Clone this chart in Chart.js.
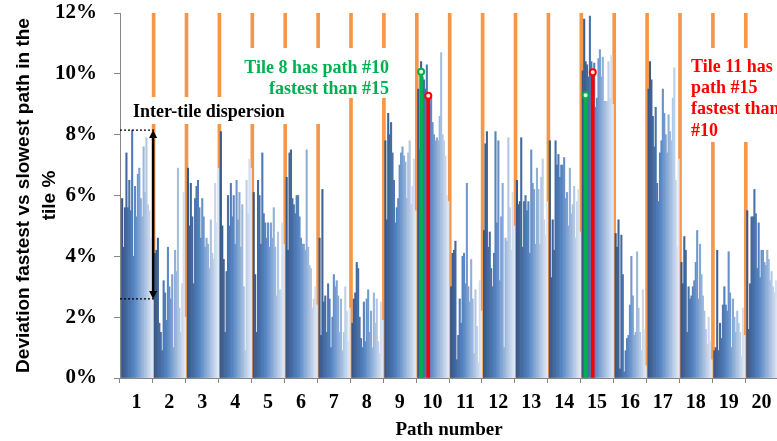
<!DOCTYPE html>
<html>
<head>
<meta charset="utf-8">
<script src="https://cdn.jsdelivr.net/npm/chart.js@4.4.0/dist/chart.umd.min.js"></script>
<style>
  html, body { margin: 0; padding: 0; background: #fff; overflow: hidden; }
  #wrap { width: 784px; height: 441px; }
</style>
</head>
<body>
<div id="wrap"><canvas id="chart"></canvas></div>
<script>
// Path numbers on the x axis
const pathLabels = ['1', '2', '3', '4', '5', '6', '7', '8', '9', '10',
                    '11', '12', '13', '14', '15', '16', '17', '18', '19', '20'];

// Deviation fastest vs slowest path, % (one row per path, one value per tile)
const deviation = [
  [5.9, 4.3, 5.6, 7.4, 5.6, 6.5, 5.5, 8.15, 4.0, 6.3, 5.3, 6.7, 6.9, 5.9, 5.3, 7.6, 6.1, 7.9, 5.7, 5.5, 4.6, 2.6],
  [4.1, 4.2, 4.6, 1.8, 1.5, 0.9, 3.2, 2.8, 1.9, 4.3, 3.0, 2.6, 3.4, 1.0, 4.2, 3.5, 6.9, 2.3, 1.5, 3.1, 6.1, 2.0],
  [6.9, 5.0, 6.4, 5.3, 3.1, 5.9, 6.3, 6.5, 5.6, 4.6, 5.9, 5.3, 4.3, 4.6, 4.4, 3.6, 5.2, 4.1, 3.9, 6.4, 5.1, 6.9],
  [8.1, 5.0, 3.9, 1.5, 3.5, 6.0, 5.0, 6.4, 5.3, 6.0, 4.4, 6.5, 5.2, 6.1, 4.3, 5.7, 3.0, 0.9, 6.5, 5.4, 7.2, 6.9],
  [6.1, 3.4, 1.5, 6.5, 6.0, 4.4, 7.4, 5.4, 5.1, 4.6, 5.1, 4.3, 5.1, 4.6, 5.6, 4.3, 2.7, 4.8, 2.9, 2.9, 5.1, 4.4],
  [6.6, 4.2, 7.4, 7.5, 5.9, 5.7, 5.4, 6.0, 6.0, 5.3, 4.6, 4.4, 4.4, 4.2, 7.5, 4.3, 3.7, 3.6, 2.3, 2.6, 3.0, 2.4],
  [4.6, 1.4, 6.2, 2.5, 2.7, 1.5, 3.1, 2.6, 1.0, 2.0, 3.4, 3.0, 3.2, 2.7, 1.5, 2.6, 0.9, 1.5, 3.0, 2.2, 1.2, 2.3],
  [1.8, 2.6, 2.8, 3.8, 3.6, 2.0, 1.3, 1.0, 2.5, 1.2, 2.6, 2.9, 1.5, 2.2, 1.0, 2.8, 1.8, 2.6, 1.2, 0.8, 2.5, 1.9],
  [7.8, 5.2, 8.7, 8.0, 8.4, 7.4, 6.5, 5.1, 5.6, 5.9, 7.0, 7.4, 7.6, 7.3, 7.1, 5.9, 7.4, 7.8, 5.7, 6.3, 7.2, 5.5],
  [9.5, 7.5, 10.4, 9.9, 9.8, 9.5, 10.3, 9.3, 9.0, 9.3, 8.4, 8.0, 7.8, 7.9, 7.8, 8.6, 10.7, 8.0, 7.8, 7.3, 6.0, 5.8],
  [3.0, 4.1, 4.2, 4.5, 0.6, 1.4, 2.6, 1.8, 4.0, 4.1, 3.1, 6.4, 3.0, 2.5, 3.9, 2.6, 0.8, 2.9, 1.7, 0.5, 3.2, 2.2],
  [4.85, 7.7, 8.1, 4.3, 4.8, 3.6, 3.0, 4.1, 8.1, 5.1, 7.8, 3.2, 5.3, 6.4, 1.0, 4.6, 4.5, 7.9, 5.6, 4.2, 6.1, 5.0],
  [6.5, 5.7, 5.8, 7.9, 4.3, 5.8, 6.0, 5.5, 5.8, 4.1, 7.5, 6.4, 6.2, 4.4, 6.9, 6.2, 4.4, 6.6, 7.2, 5.2, 4.7, 5.8],
  [7.8, 3.3, 5.2, 4.2, 7.8, 7.0, 7.35, 6.6, 7.0, 7.0, 7.25, 5.9, 6.1, 5.0, 6.9, 5.4, 5.7, 6.3, 4.6, 5.8, 6.2, 4.8],
  [10.1, 11.8, 10.4, 10.3, 9.9, 11.9, 10.4, 9.3, 10.35, 8.9, 9.2, 10.5, 10.8, 9.9, 10.55, 9.1, 9.1, 9.1, 10.4, 9.2, 10.6, 9.0],
  [4.75, 4.3, 5.2, 0.3, 4.7, 3.4, 0.2, 0.9, 1.3, 1.4, 2.4, 4.0, 2.7, 1.4, 1.5, 4.15, 2.3, 1.5, 0.9, 2.9, 1.6, 0.4],
  [9.5, 10.4, 9.8, 8.6, 7.6, 8.9, 6.4, 5.8, 7.4, 7.8, 9.5, 8.7, 8.0, 7.4, 8.65, 8.1, 7.8, 9.2, 10.2, 6.5, 4.3, 7.2],
  [3.8, 3.1, 4.65, 4.2, 1.5, 3.0, 2.6, 2.7, 3.0, 3.2, 3.8, 4.85, 2.6, 4.4, 3.4, 2.7, 2.2, 1.6, 1.1, 2.0, 1.2, 0.6],
  [0.9, 1.0, 4.2, 0.9, 1.8, 1.3, 2.4, 3.0, 2.4, 2.2, 4.15, 2.8, 1.0, 2.6, 2.0, 1.5, 2.2, 1.8, 1.5, 0.7, 2.3, 1.4],
  [5.5, 1.6, 3.1, 5.3, 5.3, 6.2, 5.4, 3.6, 5.1, 3.3, 4.2, 4.2, 3.8, 3.7, 4.2, 3.9, 3.2, 3.5, 3.0, 2.8, 3.2, 2.6]
];

// highlighted tiles on paths 10 and 15
const highlightPaths = ['10', '15'];
const tile8Values = [10.07, 9.3];
const tile11Values = [9.28, 10.05];
const tile8Slot = 2;   // position of tile 8 inside a path group
const tile11Slot = 7;  // position of tile 11 inside a path group

const yMax = 12;

// build one category per bar; slot 0 of each group is the orange separator
const tilesPerPath = deviation[0].length;
const slotsPerPath = tilesPerPath + 1;
const slotLabels = [], barData = [], sepData = [], greenBars = [], redBars = [];
pathLabels.forEach((p, pi) => {
  for (let s = 0; s < slotsPerPath; s++) {
    slotLabels.push(p + '.' + s);
    sepData.push(s === 0 && pi > 0 ? yMax : null);
    barData.push(s === 0 ? null : deviation[pi][s - 1]);
    const hi = highlightPaths.indexOf(p);
    greenBars.push(hi >= 0 && s === tile8Slot + 1 ? tile8Values[hi] : null);
    redBars.push(hi >= 0 && s === tile11Slot + 1 ? tile11Values[hi] : null);
  }
});

function mix(a, b, t) {
  return a.map((v, i) => Math.round(v + (b[i] - v) * t));
}
function tileColor(ctx) {
  const s = ctx.dataIndex % slotsPerPath - 1;
  const t = s / (tilesPerPath - 1);
  const dark = [58, 88, 134], mid = [84, 132, 195], light = [222, 230, 243];
  const c = t < 0.4 ? mix(dark, mid, t / 0.4) : mix(mid, light, (t - 0.4) / 0.6);
  return 'rgb(' + c.join(',') + ')';
}

const serif = '"Liberation Serif", "Times New Roman", serif';

const notes = {
  id: 'notes',
  afterDatasetsDraw(chart) {
    const { ctx, chartArea, scales: { x, y } } = chart;
    ctx.save();
    // text boxes with white fill (they hide the separators)
    ctx.fillStyle = '#fff';
    ctx.fillRect(126, 97, 204, 27);
    ctx.fillRect(236, 48, 164, 50);
    ctx.fillRect(688, 48, 100, 94);

    ctx.font = 'bold 18px ' + serif;
    ctx.textBaseline = 'middle';
    ctx.fillStyle = '#000';
    ctx.textAlign = 'left';
    ctx.fillText('Inter-tile dispersion', 133, 112);

    ctx.fillStyle = '#00b050';
    ctx.textAlign = 'right';
    ctx.fillText('Tile 8 has path #10', 389, 68);
    ctx.fillText('fastest than #15', 389, 89);

    ctx.fillStyle = '#ff0000';
    ctx.textAlign = 'left';
    ['Tile 11 has', 'path #15', 'fastest than', '#10'].forEach((t, i) => {
      ctx.fillText(t, 691, 67 + i * 21.3);
    });

    // dispersion arrow on path 1
    const p1 = deviation[0];
    const xa = x.getPixelForValue(slotsPerPath) - 0.5;
    const yTop = y.getPixelForValue(Math.max(...p1));
    const yBot = y.getPixelForValue(Math.min(...p1));
    ctx.strokeStyle = '#000';
    ctx.lineWidth = 1.2;
    ctx.setLineDash([2, 2]);
    ctx.beginPath();
    ctx.moveTo(chartArea.left, yTop); ctx.lineTo(xa + 2, yTop);
    ctx.moveTo(chartArea.left, yBot); ctx.lineTo(xa + 2, yBot);
    ctx.stroke();
    ctx.setLineDash([]);
    ctx.lineWidth = 2.5;
    ctx.beginPath();
    ctx.moveTo(xa, yTop + 6); ctx.lineTo(xa, yBot - 6);
    ctx.stroke();
    ctx.fillStyle = '#000';
    ctx.beginPath();
    ctx.moveTo(xa, yTop); ctx.lineTo(xa - 4, yTop + 8); ctx.lineTo(xa + 4, yTop + 8);
    ctx.closePath(); ctx.fill();
    ctx.beginPath();
    ctx.moveTo(xa, yBot); ctx.lineTo(xa - 4, yBot - 8); ctx.lineTo(xa + 4, yBot - 8);
    ctx.closePath(); ctx.fill();
    ctx.restore();
  }
};

new Chart(document.getElementById('chart'), {
  type: 'bar',
  data: {
    labels: slotLabels,
    datasets: [
      { type: 'line', data: greenBars, showLine: false, pointRadius: 3, pointBorderWidth: 2,
        pointBorderColor: '#00b050', pointBackgroundColor: '#e8f8ee', order: -2 },
      { type: 'line', data: redBars, showLine: false, pointRadius: 3, pointBorderWidth: 2,
        pointBorderColor: '#ff0000', pointBackgroundColor: '#ffe8e8', order: -2 },
      { data: greenBars, backgroundColor: '#00b050', barThickness: 3, grouped: false, order: -1 },
      { data: redBars, backgroundColor: '#ff0000', barThickness: 3, grouped: false, order: -1 },
      { data: barData, backgroundColor: tileColor, barPercentage: 1, categoryPercentage: 1,
        grouped: false, order: 1 },
      { data: sepData, backgroundColor: '#f79646', barThickness: 3, grouped: false, order: 2 }
    ]
  },
  options: {
    responsive: true,
    maintainAspectRatio: false,
    animation: false,
    layout: { padding: { top: 13, left: 0, right: 0, bottom: 0 } },
    plugins: { legend: { display: false }, tooltip: { enabled: false } },
    scales: {
      x: { display: false },
      x2: {
        type: 'category',
        labels: pathLabels,
        position: 'bottom',
        offset: true,
        grid: { offset: true, drawOnChartArea: false, tickLength: 5, color: '#868686' },
        border: { color: '#868686' },
        ticks: { color: '#000', font: { family: serif, size: 20, weight: 'bold' }, padding: 8, maxRotation: 0 },
        title: { display: true, text: 'Path number', color: '#000', padding: 0,
                 font: { family: serif, size: 19, weight: 'bold' } },
        afterFit: s => { s.height = 63; s.paddingLeft = 0; s.paddingRight = 0; }
      },
      y: {
        min: 0, max: yMax,
        ticks: { stepSize: 2, callback: v => v + '%', color: '#000', padding: 17,
                 font: { family: serif, size: 21, weight: 'bold' } },
        grid: { drawOnChartArea: false, tickLength: 6, color: '#868686' },
        border: { color: '#868686' },
        title: { display: true, text: ['Deviation fastest vs slowest path in the', 'tile %'],
                 color: '#000', padding: { top: 10, bottom: 0 },
                 font: { family: '"Liberation Sans", Arial, sans-serif', size: 19, weight: 'bold', lineHeight: 1.4 } },
        afterFit: s => { s.width = 120; s.paddingTop = 0; s.paddingBottom = 0; }
      }
    }
  },
  plugins: [notes]
});
</script>
</body>
</html>
